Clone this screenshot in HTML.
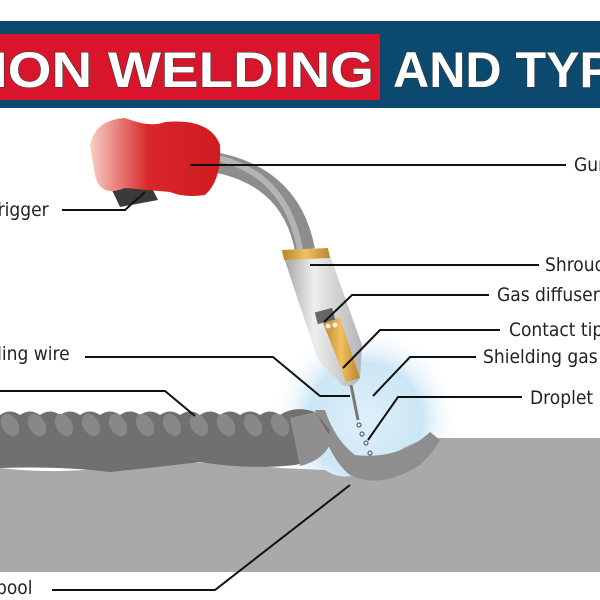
<!DOCTYPE html>
<html><head><style>
body{margin:0;width:600px;height:600px;overflow:hidden;background:#fff}
svg{display:block}
</style></head><body>
<svg width="600" height="600" viewBox="0 0 600 600" xmlns="http://www.w3.org/2000/svg">
<defs>
<radialGradient id="glow" cx="365" cy="420" r="95" gradientUnits="userSpaceOnUse">
<stop offset="0" stop-color="#d6ecf8"/><stop offset="0.6" stop-color="#bfe0f3"/><stop offset="1" stop-color="#ffffff" stop-opacity="0"/>
</radialGradient>
<linearGradient id="red" x1="0" x2="1"><stop offset="0" stop-color="#f7d0c4"/><stop offset="0.45" stop-color="#d8262a"/><stop offset="1" stop-color="#d01c20"/></linearGradient>
<linearGradient id="noz" x1="0" x2="1"><stop offset="0" stop-color="#a0a0a2"/><stop offset="0.4" stop-color="#eeeeee"/><stop offset="1" stop-color="#b4b4b6"/></linearGradient>
<linearGradient id="gold" x1="0" x2="1"><stop offset="0" stop-color="#b8862e"/><stop offset="0.5" stop-color="#f0c060"/><stop offset="1" stop-color="#b8862e"/></linearGradient>
</defs>
<rect x="0" y="21" width="600" height="87" fill="#0b4a6e"/>
<rect x="0" y="34" width="380" height="66" fill="#d8152b"/>
<g font-family="Liberation Sans, sans-serif" font-weight="bold" font-size="50" fill="#fff" style="paint-order:stroke" stroke="#333" stroke-width="1">
<text x="-8" y="87" textLength="382" lengthAdjust="spacingAndGlyphs">ION WELDING</text>
<text x="393" y="87" textLength="220" lengthAdjust="spacingAndGlyphs">AND TYP</text>
</g>
<circle cx="365" cy="415" r="92" fill="url(#glow)" opacity="0.8"/>
<path d="M0 468 Q60 475 120 466 Q200 458 280 468 L325 470 Q340 480 355 475 L400 450 Q420 438 440 438 L600 438 L600 572 L0 572Z" fill="#a9a9a9"/>
<path d="M315 410 Q330 460 350 475 Q380 490 420 465 Q435 450 440 440 L430 432 Q400 460 355 455 Q335 440 325 410Z" fill="#8e8e8e"/>
<path d="M0 415 Q10 408 20 415 Q30 408 40 415 Q50 408 60 415 Q70 408 80 415 Q90 408 100 415 Q110 408 120 415 Q130 408 140 415 Q150 408 160 415 Q170 408 180 415 Q190 408 200 415 Q210 408 220 415 Q230 408 240 415 Q250 408 260 415 Q270 408 280 415 Q295 405 315 412 L330 430 Q322 460 295 465 Q250 470 200 462 Q150 468 110 472 Q60 466 0 468Z" fill="#707073"/>
<path d="M290 418 L315 412 L332 440 Q325 460 300 466Z" fill="#8f8f91"/>
<g fill="#88888b">
<ellipse cx="10" cy="425" rx="8" ry="12" transform="rotate(-30 10 425)"/><ellipse cx="37" cy="425" rx="8" ry="12" transform="rotate(-30 37 425)"/><ellipse cx="64" cy="425" rx="8" ry="12" transform="rotate(-30 64 425)"/><ellipse cx="91" cy="425" rx="8" ry="12" transform="rotate(-30 91 425)"/><ellipse cx="118" cy="425" rx="8" ry="12" transform="rotate(-30 118 425)"/><ellipse cx="145" cy="425" rx="8" ry="12" transform="rotate(-30 145 425)"/><ellipse cx="172" cy="425" rx="8" ry="12" transform="rotate(-30 172 425)"/><ellipse cx="199" cy="425" rx="8" ry="12" transform="rotate(-30 199 425)"/><ellipse cx="226" cy="425" rx="8" ry="12" transform="rotate(-30 226 425)"/><ellipse cx="253" cy="425" rx="8" ry="12" transform="rotate(-30 253 425)"/><ellipse cx="280" cy="425" rx="8" ry="12" transform="rotate(-30 280 425)"/>
</g>
<path d="M200 160 Q290 170 305 250" stroke="#8d8d90" stroke-width="20" fill="none"/>
<path d="M200 155 Q285 165 300 250" stroke="#b4b4b6" stroke-width="6" fill="none"/>
<path d="M282 252 L328 250 L362 345 L360 378 Q352 390 342 385 L318 360 Z" fill="url(#noz)"/>
<path d="M282 250 L328 248 L330 258 L284 260Z" fill="url(#gold)"/>
<path d="M322 320 L340 318 L360 378 L346 382Z" fill="url(#gold)"/>
<rect x="316" y="310" width="18" height="12" fill="#666" transform="rotate(-15 325 316)"/>
<circle cx="321" cy="327" r="2.5" fill="#eee"/><circle cx="328" cy="326" r="2.5" fill="#eee"/><circle cx="335" cy="325" r="2.5" fill="#eee"/>
<line x1="351" y1="385" x2="358" y2="420" stroke="#777" stroke-width="3"/>
<g fill="none" stroke="#667" stroke-width="1.2"><circle cx="359" cy="425" r="2"/><circle cx="362" cy="434" r="2"/><circle cx="366" cy="443" r="2"/><circle cx="370" cy="453" r="2"/></g>
<path d="M112 190 Q130 176 150 184 L158 200 L120 207Z" fill="#3a3a3c"/>
<path d="M90 145 Q95 120 125 118 Q150 128 165 122 Q210 118 220 145 Q222 180 205 195 Q185 198 170 192 L125 188 Q100 198 95 175Z" fill="url(#red)"/>
<g stroke="#111" stroke-width="2" fill="none">
<path d="M190 165 L566 165"/>
<path d="M62 210 L125 210 L145 192"/>
<path d="M310 265 L539 265"/>
<path d="M324 322 L352 295 L489 295"/>
<path d="M343 368 L380 330 L500 330"/>
<path d="M373 396 L410 357 L476 357"/>
<path d="M368 440 L398 397 L522 397"/>
<path d="M85 357 L273 357 L320 396 L350 396"/>
<path d="M0 391 L165 391 L195 416"/>
<path d="M52 590 L215 590 L350 485"/>
</g>
<g font-family="DejaVu Sans Condensed, DejaVu Sans, sans-serif" font-size="19" fill="#222">
<text x="574" y="171">Gun</text>
<text x="-10" y="216">Trigger</text>
<text x="545" y="271">Shroud</text>
<text x="497" y="301">Gas diffuser</text>
<text x="509" y="336">Contact tip</text>
<text x="483" y="363">Shielding gas</text>
<text x="530" y="404">Droplet</text>
<text x="-40" y="360">Welding wire</text>
<text x="-4" y="594">pool</text>
</g>
</svg>
</body></html>
